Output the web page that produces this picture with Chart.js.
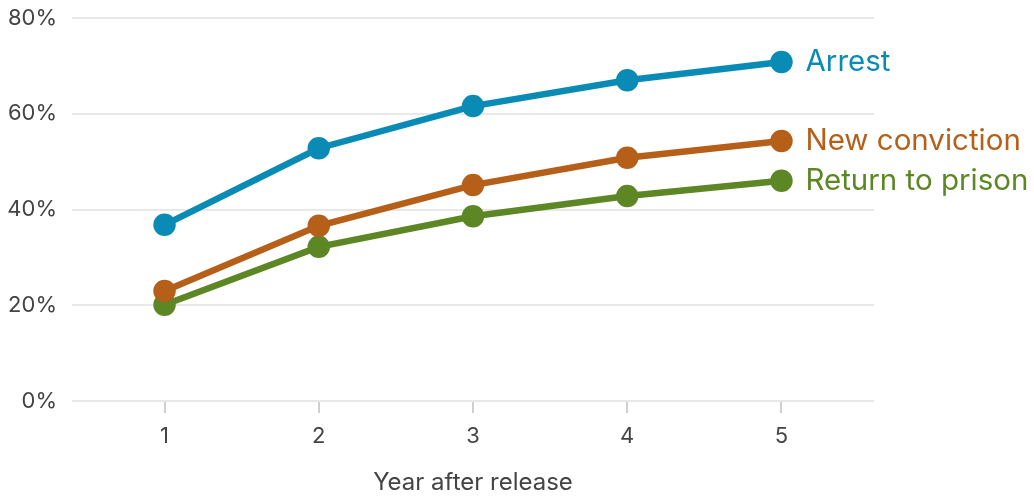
<!DOCTYPE html>
<html><head><meta charset="utf-8">
<script src="https://cdn.jsdelivr.net/npm/chart.js@4/dist/chart.umd.min.js"></script>
<style>html,body{margin:0;padding:0;background:#fff}#wrap{width:1034px;height:497px}</style>
</head><body><div id="wrap"><canvas id="c"></canvas></div>
<script>
const years = [1, 2, 3, 4, 5];
const seriesNames = ["Arrest", "New conviction", "Return to prison"];
const arrest = [36.8, 52.8, 61.6, 67.0, 70.8];
const newConviction = [23.0, 36.6, 45.1, 50.8, 54.3];
const returnToPrison = [20.1, 32.2, 38.6, 42.8, 46.0];
const yTicks = [0, 20, 40, 60, 80];
const colors = ["#0a8bb5", "#b55f19", "#5d8624"];
const FONT = "Inter, 'Noto Sans', sans-serif";

const values = [arrest, newConviction, returnToPrison];
const datasets = values.map((v, i) => ({
  label: seriesNames[i],
  data: v.map((y, j) => ({x: years[j], y})),
  borderColor: colors[i], backgroundColor: colors[i],
  borderWidth: 6.5, pointRadius: 8, pointHoverRadius: 8, tension: 0
}));

const endLabels = {
  id: 'endLabels',
  afterDatasetsDraw(chart) {
    const ctx = chart.ctx;
    ctx.save();
    ctx.font = "29.5px " + FONT;
    ctx.textBaseline = 'middle';
    ctx.textAlign = 'left';
    chart.data.datasets.forEach((ds, i) => {
      const meta = chart.getDatasetMeta(i);
      const pt = meta.data[meta.data.length - 1];
      ctx.fillStyle = ds.borderColor;
      ctx.fillText(ds.label, pt.x + 24, pt.y);
    });
    ctx.restore();
  }
};

new Chart(document.getElementById('c'), {
  type: 'line',
  data: { datasets },
  options: {
    responsive: true, maintainAspectRatio: false, animation: false,
    layout: { padding: { top: 18, right: 160, left: 0, bottom: 0 } },
    plugins: { legend: { display: false }, tooltip: { enabled: false } },
    scales: {
      x: {
        type: 'linear', min: 0.4, max: 5.6,
        afterBuildTicks: (s) => { s.ticks = years.map(v => ({value: v})); },
        afterFit: (s) => { s.height = 96; },
        border: { display: false },
        grid: { drawOnChartArea: false, drawTicks: true, tickLength: 12, color: '#d0d0d0', lineWidth: 2 },
        ticks: { font: { size: 22, family: FONT }, color: '#444', padding: 10 },
        title: { display: true, text: 'Year after release', font: { size: 24, family: FONT }, color: '#444', padding: { top: 0, bottom: 0 } }
      },
      y: {
        min: 0, max: 80,
        afterBuildTicks: (s) => { s.ticks = yTicks.map(v => ({value: v})); },
        afterFit: (s) => { s.width = 72; s.paddingTop = 0; s.paddingBottom = 0; },
        border: { display: false },
        grid: { drawTicks: false, color: '#e8e8e8', lineWidth: 2 },
        ticks: { font: { size: 22, family: FONT }, color: '#444', padding: 15, callback: v => v + '%' }
      }
    }
  },
  plugins: [endLabels]
});
</script></body></html>
